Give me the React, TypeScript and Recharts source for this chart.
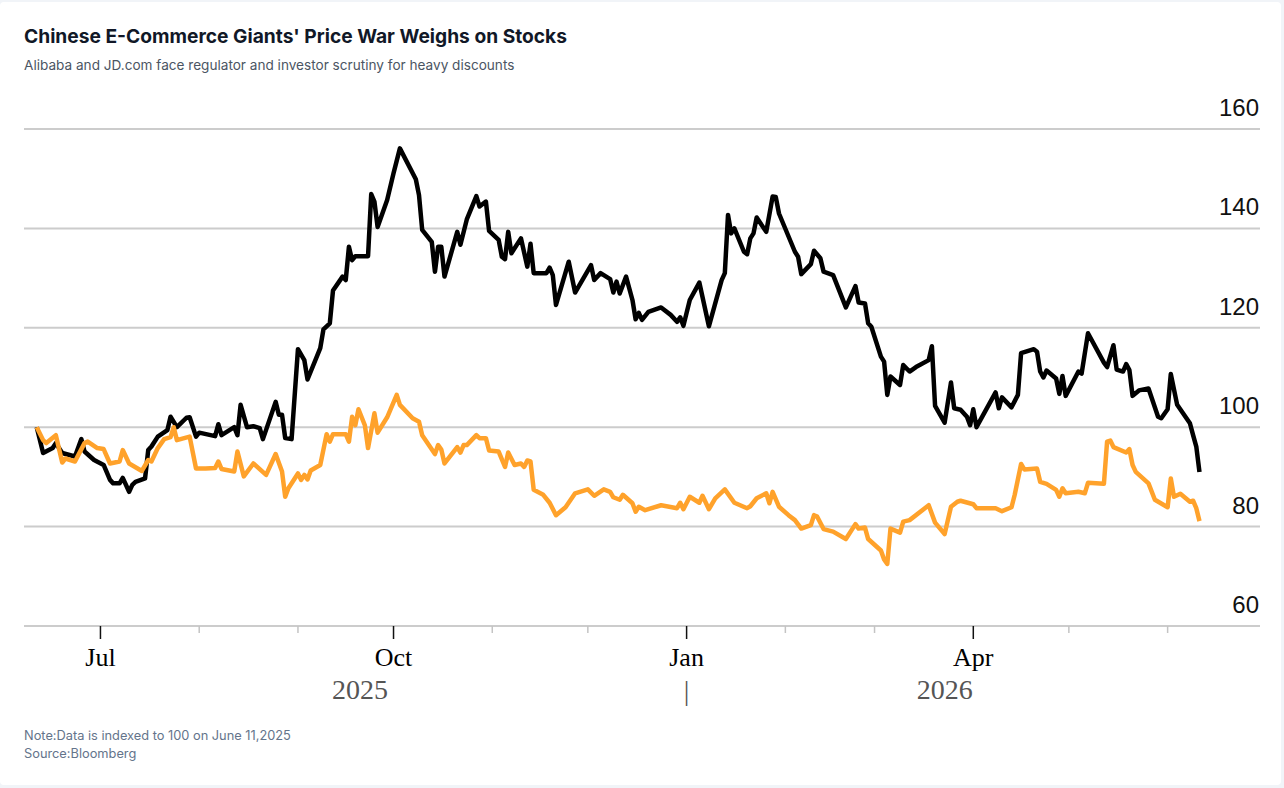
import React from "react";
import { LineChart, Line, XAxis, YAxis, CartesianGrid } from "recharts";

// Alibaba (black) and JD.com (orange), indexed to 100 on June 11, 2025
const alibabaDates = [
  "2025-06-11", "2025-06-13", "2025-06-16", "2025-06-17", "2025-06-19", "2025-06-23", "2025-06-25", "2025-06-26",
  "2025-06-29", "2025-07-02", "2025-07-04", "2025-07-05", "2025-07-07", "2025-07-08", "2025-07-10", "2025-07-11",
  "2025-07-12", "2025-07-15", "2025-07-16", "2025-07-17", "2025-07-19", "2025-07-22", "2025-07-23", "2025-07-25",
  "2025-07-28", "2025-07-29", "2025-07-31", "2025-08-01", "2025-08-06", "2025-08-07", "2025-08-08", "2025-08-12",
  "2025-08-13", "2025-08-14", "2025-08-16", "2025-08-18", "2025-08-20", "2025-08-21", "2025-08-25", "2025-08-26",
  "2025-08-27", "2025-08-28", "2025-08-30", "2025-09-01", "2025-09-03", "2025-09-04", "2025-09-08", "2025-09-09",
  "2025-09-11", "2025-09-12", "2025-09-15", "2025-09-16", "2025-09-17", "2025-09-18", "2025-09-19", "2025-09-23",
  "2025-09-24", "2025-09-25", "2025-09-26", "2025-09-29", "2025-10-01", "2025-10-03", "2025-10-08", "2025-10-09",
  "2025-10-10", "2025-10-13", "2025-10-14", "2025-10-15", "2025-10-16", "2025-10-17", "2025-10-21", "2025-10-22",
  "2025-10-24", "2025-10-27", "2025-10-28", "2025-10-30", "2025-10-31", "2025-11-03", "2025-11-04", "2025-11-05",
  "2025-11-06", "2025-11-07", "2025-11-10", "2025-11-12", "2025-11-13", "2025-11-14", "2025-11-18", "2025-11-19",
  "2025-11-20", "2025-11-21", "2025-11-25", "2025-11-27", "2025-12-02", "2025-12-03", "2025-12-05", "2025-12-08",
  "2025-12-09", "2025-12-10", "2025-12-11", "2025-12-13", "2025-12-15", "2025-12-16", "2025-12-17", "2025-12-18",
  "2025-12-20", "2025-12-24", "2025-12-27", "2025-12-29", "2025-12-30", "2025-12-31", "2026-01-02", "2026-01-05",
  "2026-01-08", "2026-01-12", "2026-01-13", "2026-01-14", "2026-01-15", "2026-01-16", "2026-01-19", "2026-01-20",
  "2026-01-21", "2026-01-22", "2026-01-23", "2026-01-26", "2026-01-28", "2026-01-29", "2026-01-30", "2026-02-04",
  "2026-02-05", "2026-02-06", "2026-02-09", "2026-02-10", "2026-02-12", "2026-02-13", "2026-02-16", "2026-02-20",
  "2026-02-23", "2026-02-24", "2026-02-26", "2026-02-27", "2026-02-28", "2026-03-03", "2026-03-04", "2026-03-05",
  "2026-03-06", "2026-03-09", "2026-03-10", "2026-03-12", "2026-03-14", "2026-03-18", "2026-03-19", "2026-03-20",
  "2026-03-23", "2026-03-25", "2026-03-26", "2026-03-28", "2026-03-30", "2026-03-31", "2026-04-01", "2026-04-02",
  "2026-04-08", "2026-04-09", "2026-04-10", "2026-04-13", "2026-04-15", "2026-04-16", "2026-04-20", "2026-04-21",
  "2026-04-22", "2026-04-23", "2026-04-24", "2026-04-27", "2026-04-28", "2026-04-29", "2026-04-30", "2026-05-04",
  "2026-05-05", "2026-05-07", "2026-05-12", "2026-05-13", "2026-05-15", "2026-05-16", "2026-05-18", "2026-05-19",
  "2026-05-20", "2026-05-21", "2026-05-23", "2026-05-26", "2026-05-29", "2026-05-30", "2026-06-01", "2026-06-02",
  "2026-06-04", "2026-06-08", "2026-06-09", "2026-06-10", "2026-06-11",
];
const alibabaValues = [
  100, 94.8, 95.8, 96.8, 94.8, 94.1, 97.6, 95.1,
  93.4, 92.4, 89.4, 88.7, 88.7, 89.8, 87.0, 88.4,
  89.0, 89.7, 95.4, 96.1, 98.1, 99.4, 102.1, 100,
  101.9, 102.0, 98.1, 98.9, 98.2, 100.6, 98.4, 100,
  98.4, 104.5, 100, 100.2, 99.8, 97.6, 105.1, 102.5,
  102.5, 97.8, 97.6, 115.7, 113.5, 109.6, 115.9, 119.7,
  120.9, 127.5, 130.3, 129.6, 136.3, 133.6, 134.4, 134.4,
  146.9, 145.4, 140.3, 145.7, 151.1, 156.1, 149.9, 146.7,
  139.7, 137.3, 131.3, 136.3, 136.3, 130.3, 139.3, 136.7,
  141.8, 146.5, 144.4, 145.4, 139.5, 137.7, 134.3, 133.8,
  139.3, 135.0, 138.0, 132.3, 136.9, 131.0, 131.0, 132.1,
  130.6, 124.6, 133.3, 127.1, 132.6, 129.6, 131.0, 129.8,
  127.1, 129.3, 126.9, 130.3, 125.6, 121.7, 123.0, 121.6,
  123.2, 124.1, 122.6, 121.2, 122.1, 120.4, 125.6, 129.1,
  120.3, 129.6, 131.0, 142.7, 139.0, 140.0, 135.3, 134.8,
  138.0, 139.0, 142.2, 139.3, 146.4, 146.3, 143.0, 135.3,
  134.3, 130.8, 132.8, 135.5, 134.0, 131.3, 130.6, 124.1,
  128.4, 125.1, 124.9, 120.9, 120.2, 114.2, 113.2, 106.5,
  110.2, 108.5, 112.5, 111.2, 112.1, 113.5, 116.3, 104.3,
  100.9, 109.0, 103.8, 103.5, 102.1, 100.4, 103.6, 100.0,
  107.0, 103.8, 106.0, 104.0, 106.5, 114.9, 115.7, 115.2,
  111.2, 110.0, 111.4, 109.8, 106.7, 110.3, 106.3, 111.2,
  110.8, 118.9, 113.0, 112.1, 116.5, 111.6, 111.2, 112.7,
  111.5, 106.3, 107.4, 107.8, 102.1, 101.8, 103.6, 110.7,
  104.5, 100.8, 98.4, 96.1, 91.0,
];

const jdDates = [
  "2025-06-11", "2025-06-13", "2025-06-14", "2025-06-17", "2025-06-19", "2025-06-20", "2025-06-23", "2025-06-26",
  "2025-06-27", "2025-06-30", "2025-07-02", "2025-07-04", "2025-07-07", "2025-07-08", "2025-07-10", "2025-07-14",
  "2025-07-16", "2025-07-17", "2025-07-19", "2025-07-21", "2025-07-23", "2025-07-24", "2025-07-25", "2025-07-29",
  "2025-07-31", "2025-08-03", "2025-08-06", "2025-08-07", "2025-08-08", "2025-08-12", "2025-08-13", "2025-08-15",
  "2025-08-18", "2025-08-22", "2025-08-25", "2025-08-27", "2025-08-28", "2025-08-29", "2025-09-01", "2025-09-02",
  "2025-09-03", "2025-09-04", "2025-09-05", "2025-09-08", "2025-09-10", "2025-09-11", "2025-09-12", "2025-09-16",
  "2025-09-17", "2025-09-18", "2025-09-19", "2025-09-20", "2025-09-22", "2025-09-23", "2025-09-25", "2025-09-26",
  "2025-09-29", "2025-10-02", "2025-10-03", "2025-10-07", "2025-10-09", "2025-10-10", "2025-10-14", "2025-10-15",
  "2025-10-16", "2025-10-17", "2025-10-21", "2025-10-22", "2025-10-23", "2025-10-24", "2025-10-27", "2025-10-28",
  "2025-10-30", "2025-10-31", "2025-11-03", "2025-11-05", "2025-11-06", "2025-11-08", "2025-11-10", "2025-11-11",
  "2025-11-12", "2025-11-13", "2025-11-14", "2025-11-17", "2025-11-19", "2025-11-21", "2025-11-24", "2025-11-27",
  "2025-12-01", "2025-12-03", "2025-12-06", "2025-12-08", "2025-12-09", "2025-12-11", "2025-12-12", "2025-12-15",
  "2025-12-16", "2025-12-17", "2025-12-19", "2025-12-24", "2025-12-29", "2025-12-30", "2025-12-31", "2026-01-02",
  "2026-01-05", "2026-01-06", "2026-01-08", "2026-01-10", "2026-01-13", "2026-01-16", "2026-01-20", "2026-01-21",
  "2026-01-23", "2026-01-26", "2026-01-27", "2026-01-28", "2026-01-30", "2026-02-02", "2026-02-04", "2026-02-06",
  "2026-02-09", "2026-02-10", "2026-02-11", "2026-02-13", "2026-02-16", "2026-02-20", "2026-02-23", "2026-02-24",
  "2026-02-26", "2026-02-27", "2026-03-03", "2026-03-04", "2026-03-05", "2026-03-06", "2026-03-09", "2026-03-10",
  "2026-03-12", "2026-03-18", "2026-03-20", "2026-03-23", "2026-03-25", "2026-03-27", "2026-03-28", "2026-04-01",
  "2026-04-02", "2026-04-08", "2026-04-10", "2026-04-13", "2026-04-14", "2026-04-16", "2026-04-17", "2026-04-21",
  "2026-04-22", "2026-04-24", "2026-04-27", "2026-04-28", "2026-04-29", "2026-04-30", "2026-05-04", "2026-05-06",
  "2026-05-07", "2026-05-12", "2026-05-13", "2026-05-14", "2026-05-15", "2026-05-19", "2026-05-20", "2026-05-21",
  "2026-05-22", "2026-05-26", "2026-05-28", "2026-06-01", "2026-06-02", "2026-06-03", "2026-06-05", "2026-06-08",
  "2026-06-09", "2026-06-10", "2026-06-11",
];
const jdValues = [
  100, 97.4, 96.8, 98.4, 92.9, 93.7, 93.1, 96.8,
  97.1, 95.8, 95.6, 92.7, 93.1, 95.4, 92.7, 91.2,
  93.4, 93.1, 95.8, 97.6, 98.0, 100.0, 97.4, 98.1,
  91.7, 91.7, 91.8, 93.1, 91.6, 91.1, 95.1, 90.1,
  92.7, 90.4, 94.6, 91.1, 86.0, 87.7, 90.7, 89.4,
  90.4, 89.5, 91.3, 92.4, 98.6, 97.1, 98.6, 98.6,
  97.1, 102.1, 100.4, 103.6, 100.4, 95.8, 102.8, 98.9,
  102.0, 106.5, 104.5, 101.8, 101.1, 98.4, 94.6, 96.4,
  95.5, 92.7, 96.0, 94.9, 96.4, 96.4, 98.4, 97.8,
  97.8, 95.3, 95.1, 92.0, 94.9, 92.4, 92.7, 92.0,
  93.3, 93.1, 87.4, 86.4, 84.8, 82.3, 83.9, 86.7,
  87.5, 86.2, 87.5, 87.0, 85.9, 85.4, 86.4, 84.7,
  83.0, 84.0, 83.3, 84.3, 83.7, 84.8, 83.5, 86.0,
  84.8, 86.2, 83.5, 85.7, 87.5, 84.8, 83.7, 84.1,
  85.7, 86.7, 84.7, 87.0, 84.0, 82.3, 81.3, 79.6,
  80.3, 82.3, 82.0, 79.5, 79.0, 77.5, 80.5, 79.6,
  79.8, 77.5, 75.2, 73.4, 72.5, 79.6, 78.8, 81.0,
  81.3, 84.3, 80.8, 78.5, 84.0, 85.0, 85.2, 84.5,
  83.7, 83.7, 83.1, 83.9, 86.4, 92.6, 91.5, 91.7,
  89.0, 88.6, 87.4, 86.0, 87.7, 86.7, 87.0, 86.7,
  88.8, 88.6, 97.1, 97.3, 96.0, 94.9, 95.6, 92.4,
  91.0, 88.7, 85.4, 83.9, 89.7, 86.0, 86.6, 85.0,
  85.2, 83.7, 81.1,
];

const monthTicks = [
  "2025-07-01", "2025-08-01", "2025-09-01", "2025-10-01", "2025-11-01", "2025-12-01",
  "2026-01-01", "2026-02-01", "2026-03-01", "2026-04-01", "2026-05-01", "2026-06-01",
];
const monthLabels: Record<string, string> = {
  "2025-07-01": "Jul",
  "2025-10-01": "Oct",
  "2026-01-01": "Jan",
  "2026-04-01": "Apr",
};
const years = ["2025", "2026"];
const yearBreak = "2026-01-01";
const yTicks = [60, 80, 100, 120, 140, 160];
const xDomain = ["2025-06-07", "2026-06-30"];

const toT = (d: string) => Date.parse(d + "T00:00:00Z");

const alibabaData = alibabaDates.map((d, i) => ({ t: toT(d), v: alibabaValues[i] }));
const jdData = jdDates.map((d, i) => ({ t: toT(d), v: jdValues[i] }));

// year labels sit in the middle of each year's data
const allT = [...alibabaData, ...jdData].map((p) => p.t);
const yearMids = years.map((y) => {
  const ts = allT.filter((t) => new Date(t).getUTCFullYear() === Number(y));
  return { label: y, t: (Math.min(...ts) + Math.max(...ts)) / 2 };
});

const majorT: Record<number, string> = {};
Object.keys(monthLabels).forEach((k) => (majorT[toT(k)] = monthLabels[k]));
const breakT = toT(yearBreak);
const xTicks = [...monthTicks.map(toT), ...yearMids.map((m) => m.t)];

const SERIF = "'Liberation Serif', 'Times New Roman', Times, serif";
const SANS = "'Liberation Sans', Arial, Helvetica, sans-serif";
const UI = "Inter, 'Noto Sans', sans-serif";

const XTick = (props: any) => {
  const { x, y, payload } = props;
  const t = payload.value;
  const yr = yearMids.find((m) => m.t === t);
  if (yr) {
    return (
      <text x={x} y={y + 73} textAnchor="middle" fontFamily={SERIF} fontSize={28} fill="#555">
        {yr.label}
      </text>
    );
  }
  const label = majorT[t];
  return (
    <g>
      <line
        x1={x}
        x2={x}
        y1={y}
        y2={y + (label ? 13 : 7)}
        stroke={label ? "#111" : "#c4c4c4"}
        strokeWidth={1.5}
      />
      {label && (
        <text x={x} y={y + 40} textAnchor="middle" fontFamily={SERIF} fontSize={26} fill="#000">
          {label}
        </text>
      )}
      {t === breakT && (
        <text x={x} y={y + 74} textAnchor="middle" fontFamily={SERIF} fontSize={28} fill="#555">
          |
        </text>
      )}
    </g>
  );
};

const YTick = (props: any) => {
  const { y, payload } = props;
  return (
    <text x={1259} y={y - 13} textAnchor="end" fontFamily={SANS} fontSize={24} fill="#111">
      {payload.value}
    </text>
  );
};

export default function App() {
  return (
    <div style={{ position: "fixed", left: 0, top: 0, width: 1284, height: 788, background: "#f1f4f8" }}>
      <div
        style={{
          position: "absolute",
          left: 0,
          top: 2,
          width: 1281,
          height: 783,
          background: "#fff",
          borderRadius: 4,
        }}
      />
      <div
        style={{
          position: "absolute",
          left: 24,
          top: 26,
          fontFamily: UI,
          fontWeight: 700,
          fontSize: 19.2,
          lineHeight: "20px",
          color: "#111827",
          whiteSpace: "nowrap",
        }}
      >
        Chinese E-Commerce Giants' Price War Weighs on Stocks
      </div>
      <div
        style={{
          position: "absolute",
          left: 24,
          top: 57,
          fontFamily: UI,
          fontSize: 13.6,
          lineHeight: "16px",
          color: "#4b5563",
          whiteSpace: "nowrap",
        }}
      >
        Alibaba and JD.com face regulator and investor scrutiny for heavy discounts
      </div>
      <div style={{ position: "absolute", left: 0, top: 0 }}>
        <LineChart width={1284} height={720} margin={{ top: 129, right: 0, bottom: 0, left: 24 }}>
          <CartesianGrid vertical={false} stroke="#cccccc" strokeWidth={2} />
          <XAxis
            dataKey="t"
            type="number"
            scale="time"
            domain={[toT(xDomain[0]), toT(xDomain[1])]}
            allowDataOverflow
            ticks={xTicks}
            interval={0}
            height={94}
            tickSize={0}
            tickMargin={0}
            tickLine={false}
            axisLine={{ stroke: "#cccccc", strokeWidth: 2 }}
            tick={<XTick />}
          />
          <YAxis
            orientation="right"
            domain={[60, 160]}
            ticks={yTicks}
            interval={0}
            width={24}
            tickSize={0}
            tickMargin={0}
            axisLine={false}
            tickLine={false}
            tick={<YTick />}
          />
          <Line
            data={alibabaData}
            dataKey="v"
            type="linear"
            stroke="#000"
            strokeWidth={4.5}
            strokeLinejoin="round"
            dot={false}
            activeDot={false}
            isAnimationActive={false}
          />
          <Line
            data={jdData}
            dataKey="v"
            type="linear"
            stroke="#ffa22b"
            strokeWidth={4.5}
            strokeLinejoin="round"
            dot={false}
            activeDot={false}
            isAnimationActive={false}
          />
        </LineChart>
      </div>
      <div
        style={{
          position: "absolute",
          left: 24,
          top: 727,
          fontFamily: UI,
          fontSize: 12.8,
          lineHeight: "18px",
          color: "#64748b",
          whiteSpace: "nowrap",
        }}
      >
        <div>Note:Data is indexed to 100 on June 11,2025</div>
        <div>Source:Bloomberg</div>
      </div>
    </div>
  );
}
